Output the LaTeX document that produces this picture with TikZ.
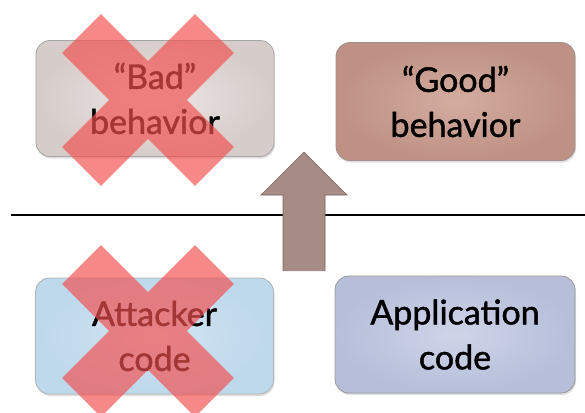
\documentclass[tikz,border=0pt]{standalone}
\usepackage{fontspec}
\setmainfont[FakeBold=1.3]{Lato}
\usetikzlibrary{shadows}
\definecolor{badfill}{RGB}{214,204,202}
\definecolor{badin}{RGB}{236,230,228}
\definecolor{goodfill}{RGB}{190,145,132}
\definecolor{goodin}{RGB}{212,172,160}
\definecolor{attfill}{RGB}{190,216,236}
\definecolor{attin}{RGB}{210,228,242}
\definecolor{appfill}{RGB}{182,190,218}
\definecolor{appin}{RGB}{206,212,232}
\definecolor{arrowfill}{RGB}{166,140,132}
\definecolor{arrowline}{RGB}{120,100,94}
\definecolor{xred}{RGB}{242,80,80}
\tikzset{
  box/.style={rounded corners=14pt, draw=gray!80, line width=0.8pt,
    minimum width=238pt, minimum height=116pt, align=center,
    font=\fontsize{34}{45}\selectfont, text=black,
    drop shadow={shadow xshift=1pt, shadow yshift=-2pt, opacity=0.25}},
  redcross/.pic={
    \fill[xred, opacity=0.68]
      (47.02,85.92) -- (85.92,47.02) -- (38.9,0) -- (85.92,-47.02) --
      (47.02,-85.92) -- (0,-38.9) -- (-47.02,-85.92) -- (-85.92,-47.02) --
      (-38.9,0) -- (-85.92,47.02) -- (-47.02,85.92) -- (0,38.9) -- cycle;
  }
}
\begin{document}
\begin{tikzpicture}[x=1pt,y=1pt]
\useasboundingbox (0,0) rectangle (585,-412);
\fill[white] (0,0) rectangle (585,-412);
% boundary line
\coordinate (lineL) at (11,-215);
\coordinate (lineR) at (585,-215);
\draw[line width=2pt] (lineL) -- (lineR);
% boxes
\node[box, inner color=badin, outer color=badfill, draw=gray!70] (bad) at (155,-98.5) {``Bad''\\behavior};
\node[box, inner color=goodin, outer color=goodfill, draw=arrowline!70, minimum width=239pt, minimum height=118pt] (good) at (455.5,-101.5) {``Good''\\behavior};
\node[box, inner color=attin, outer color=attfill, draw=gray!60] (att) at (154.5,-336) {Attacker\\code};
\node[box, inner color=appin, outer color=appfill, draw=gray!80, minimum width=240pt, minimum height=117pt] (app) at (455,-334.5) {Application\\code};
% up arrow
\fill[arrowfill] (283,-271) -- (283,-195) -- (261,-195) -- (304,-152) -- (347,-195) -- (325,-195) -- (325,-271) -- cycle;
\draw[arrowline, line width=0.6pt] (283,-271) -- (283,-195) -- (261,-195) -- (304,-152) -- (347,-195) -- (325,-195) -- (325,-271);
% red crosses
\pic at (148,-100) {redcross};
\pic at (148,-331) {redcross};
\end{tikzpicture}
\end{document}
